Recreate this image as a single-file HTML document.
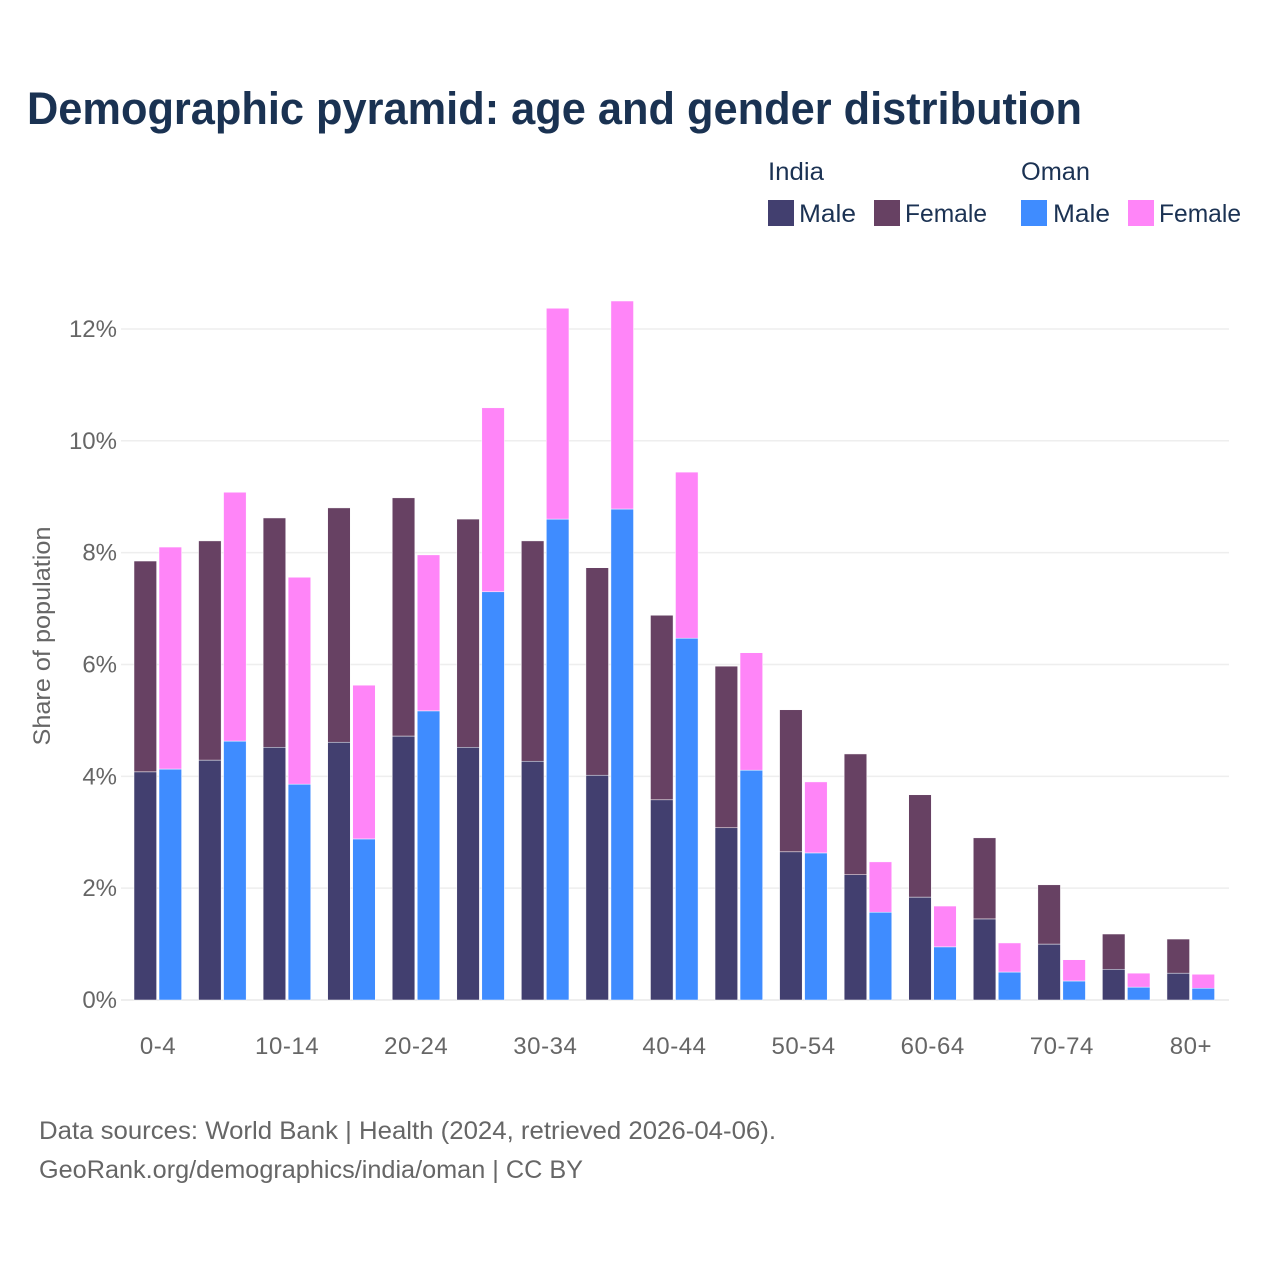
<!DOCTYPE html>
<html lang="en">
<head>
<meta charset="utf-8">
<title>Demographic pyramid: age and gender distribution</title>
<style>
html,body{margin:0;padding:0;background:#fff;width:1280px;height:1280px;overflow:hidden}
svg{display:block}
text{font-family:"Liberation Sans",sans-serif}
.tick{font-size:24px;fill:#666}
.xtick{font-size:24px;fill:#666;letter-spacing:.55px}
.leg{font-size:25px;fill:#1b3253}
.foot{font-size:25px;fill:#666}
</style>
</head>
<body>
<svg id="chart" xmlns="http://www.w3.org/2000/svg" width="1280" height="1280" viewBox="0 0 1280 1280">
  <rect width="1280" height="1280" fill="#fff"/>
  <text x="27" y="124" font-size="45" font-weight="700" fill="#1a3252" textLength="1055" lengthAdjust="spacingAndGlyphs">Demographic pyramid: age and gender distribution</text>
  <g id="grid"></g>
  <g id="bars"></g>
  <g id="yaxis"></g>
  <g id="xaxis"></g>
  <text class="tick" transform="translate(50,636) rotate(-90)" text-anchor="middle" textLength="219" lengthAdjust="spacingAndGlyphs">Share of population</text>
  <g>
    <text class="leg" x="768" y="180" textLength="56" lengthAdjust="spacingAndGlyphs">India</text>
    <text class="leg" x="1021" y="180" textLength="69" lengthAdjust="spacingAndGlyphs">Oman</text>
    <g>
      <rect x="768" y="200" width="26" height="26" fill="#423f6f"/>
      <text class="leg" x="799" y="222" textLength="57" lengthAdjust="spacingAndGlyphs">Male</text>
    </g>
    <g>
      <rect x="874" y="200" width="26" height="26" fill="#674163"/>
      <text class="leg" x="905" y="222" textLength="82" lengthAdjust="spacingAndGlyphs">Female</text>
    </g>
    <g>
      <rect x="1021" y="200" width="26" height="26" fill="#3f8cff"/>
      <text class="leg" x="1053" y="222" textLength="57" lengthAdjust="spacingAndGlyphs">Male</text>
    </g>
    <g>
      <rect x="1128" y="200" width="26" height="26" fill="#ff85f8"/>
      <text class="leg" x="1159" y="222" textLength="82" lengthAdjust="spacingAndGlyphs">Female</text>
    </g>
  </g>
  <text class="foot" x="39" y="1139" textLength="737" lengthAdjust="spacingAndGlyphs">Data sources: World Bank | Health (2024, retrieved 2026-04-06).</text>
  <text class="foot" x="39" y="1178" textLength="544" lengthAdjust="spacingAndGlyphs">GeoRank.org/demographics/india/oman | CC BY</text>
</svg>
<script>
const ageGroups = ["0-4","5-9","10-14","15-19","20-24","25-29","30-34","35-39","40-44","45-49","50-54","55-59","60-64","65-69","70-74","75-79","80+"];
const indiaMale = [4.08,4.29,4.52,4.61,4.72,4.52,4.27,4.02,3.58,3.08,2.65,2.24,1.84,1.45,1.00,0.55,0.48];
const indiaFemale = [3.77,3.92,4.10,4.19,4.26,4.08,3.94,3.71,3.30,2.89,2.54,2.16,1.83,1.45,1.06,0.63,0.61];
const omanMale = [4.13,4.63,3.86,2.88,5.17,7.30,8.60,8.78,6.47,4.11,2.63,1.57,0.95,0.50,0.34,0.23,0.21];
const omanFemale = [3.97,4.45,3.70,2.75,2.79,3.29,3.77,3.72,2.97,2.10,1.27,0.90,0.73,0.52,0.38,0.25,0.25];
const yTicks = [0,2,4,6,8,10,12];

const NS = 'http://www.w3.org/2000/svg';
const xCenter = function (i) { return 158 + 64.56 * i; };
const yScale = function (v) { return 1000 - 55.92 * v; };

const gridG = document.getElementById('grid');
const yAxisG = document.getElementById('yaxis');
const xAxisG = document.getElementById('xaxis');
const barsG = document.getElementById('bars');

yTicks.forEach(function (t) {
  const line = document.createElementNS(NS, 'line');
  
  
  line.setAttribute('x1', 121);
  line.setAttribute('x2', 1229);
  line.setAttribute('y1', yScale(t));
  line.setAttribute('y2', yScale(t));
  line.setAttribute('stroke', '#eeeeee');
  line.setAttribute('stroke-width', t === 0 ? 2 : 1.5);
  gridG.appendChild(line);

  const label = document.createElementNS(NS, 'text');
  
  
  label.setAttribute('class', 'tick');
  label.setAttribute('x', 117);
  label.setAttribute('y', yScale(t) + 8);
  label.setAttribute('text-anchor', 'end');
  label.textContent = t + '%';
  yAxisG.appendChild(label);
});

ageGroups.forEach(function (age, i) {
  if (i % 2 === 0) {
    const label = document.createElementNS(NS, 'text');
    
    
    label.setAttribute('class', 'xtick');
    label.setAttribute('x', xCenter(i));
    label.setAttribute('y', 1054);
    label.setAttribute('text-anchor', 'middle');
    label.textContent = age;
    xAxisG.appendChild(label);
  }
});

function drawSegment(name, x, base, value, color) {
  const rect = document.createElementNS(NS, 'rect');
  
  
  rect.setAttribute('x', x);
  rect.setAttribute('y', yScale(base + value));
  rect.setAttribute('width', 22.6);
  rect.setAttribute('height', yScale(base) - yScale(base + value));
  rect.setAttribute('fill', color);
  rect.setAttribute('stroke', '#ffffff');
  rect.setAttribute('stroke-width', 0.5);
  barsG.appendChild(rect);
}

ageGroups.forEach(function (age, i) {
  const c = xCenter(i);
  drawSegment('bar-india-male-' + age, c - 24, 0, indiaMale[i], '#423f6f');
  drawSegment('bar-india-female-' + age, c - 24, indiaMale[i], indiaFemale[i], '#674163');
  drawSegment('bar-oman-male-' + age, c + 1, 0, omanMale[i], '#3f8cff');
  drawSegment('bar-oman-female-' + age, c + 1, omanMale[i], omanFemale[i], '#ff85f8');
});
</script>
</body>
</html>
